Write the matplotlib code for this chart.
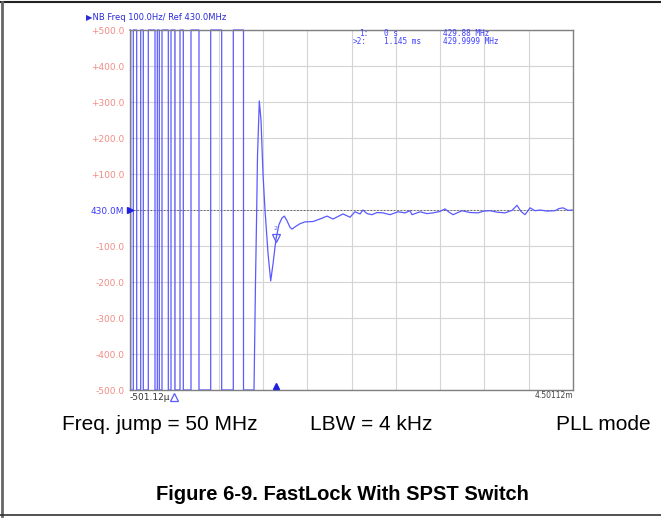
import numpy as np
import matplotlib
matplotlib.use("Agg")
import matplotlib.pyplot as plt
from matplotlib.lines import Line2D

# ---Data (time in ms, frequency offset from 430 MHz in Hz)----
T_START: float = -0.50112
T_STOP: float = 4.50112
Y_TICKS = [500, 400, 300, 200, 100, 0, -100, -200, -300, -400, -500]
Y_LABELS = ["+500.0", "+400.0", "+300.0", "+200.0", "+100.0", "430.0M",
            "-100.0", "-200.0", "-300.0", "-400.0", "-500.0"]

# times where the (off-screen) trace sweeps from one rail to the other
crossing_ms = [-0.4932, -0.4638, -0.4255, -0.3803, -0.3510, -0.2945, -0.2188,
               -0.1928, -0.1703, -0.1398, -0.0686, -0.0381, 0.0070, 0.0635,
               0.1008, 0.1877, 0.2780, 0.4101, 0.5341, 0.6653, 0.7805]

# settling part of the trace
settle_ms = [0.8991, 0.9160, 0.9296, 0.9386, 0.9589, 0.9781, 1.0007, 1.0233,
             1.0572, 1.0877, 1.1137, 1.1475, 1.1814, 1.2153, 1.2413, 1.2718,
             1.3056, 1.3282, 1.3734, 1.4186, 1.4750, 1.5654, 1.6444, 1.7235,
             1.7912, 1.8477, 1.9041, 1.9832, 2.0396, 2.0961, 2.1300, 2.1751,
             2.2316, 2.2880, 2.3558, 2.4348, 2.5251, 2.6042, 2.6607, 2.6832,
             2.7736, 2.8526, 2.9204, 2.9994, 3.0559, 3.1010, 3.1462, 3.2478,
             3.3382, 3.4285, 3.4962, 3.5640, 3.6430, 3.7334, 3.8124, 3.8689,
             3.9141, 3.9592, 4.0157, 4.0722, 4.1286, 4.2077, 4.2980, 4.3432,
             4.3884, 4.4448, 4.5011]
settle_hz = [-500, -200, 0, 150, 303, 250, 100, 0,
             -120, -197, -150, -80, -40, -22, -17, -30,
             -48, -53, -45, -38, -33, -32, -25, -17,
             -25, -18, -11, -20, -5, -11, 0, -10,
             -13, -7, -8, -13, -5, -8, -2, -13,
             -5, -10, -8, -4, 3, -6, -13, -2,
             -7, -8, -3, -2, -6, -8, -1, 13,
             -4, -13, 6, -2, 0, -3, -2, 4,
             6, -1, 0]

MARKER2_MS: float = 1.145
MARKER2_HZ: float = -78
# ---Data----

W, H = 661, 518
BLUE = "#5a5aff"
SALMON = "#f08c84"


def px(x, y):
    return x / W, 1 - y / H


def build_trace():
    t = [T_START]
    f = [500]
    level = 500
    for c in crossing_ms:
        t += [c, c]
        f += [level, -level]
        level = -level
    t += settle_ms
    f += settle_hz
    return np.array(t), np.clip(np.array(f, dtype=float), -500, 500)


def main() -> None:
    fig = plt.figure(figsize=(W / 100, H / 100), dpi=100)
    l, b = px(130, 390)
    r, t_ = px(573, 30)
    ax = fig.add_axes([l, b, r - l, t_ - b])

    t, f = build_trace()
    ax.plot(t, f, color=BLUE, lw=0.9, zorder=3, clip_on=False)

    ax.set_xlim(T_START, T_STOP)
    ax.set_ylim(-500, 500)
    ax.set_xticks(np.linspace(T_START, T_STOP, 11))
    ax.set_xticklabels([])
    ax.set_yticks(Y_TICKS)
    ax.set_yticklabels(Y_LABELS, fontsize=6.5)
    for lab, v in zip(ax.get_yticklabels(), Y_TICKS):
        lab.set_color("#3a3aff" if v == 0 else SALMON)
    ax.tick_params(length=0, pad=4)
    ax.grid(True, color="#d4d4d4", lw=0.8)
    ax.set_axisbelow(True)
    for s in ax.spines.values():
        s.set_color("#808080")
        s.set_linewidth(1.0)
        s.set_zorder(4)
    # reference level line
    ax.axhline(0, color="#555555", lw=0.6, ls=(0, (2, 2)), zorder=2)
    ax.plot([T_START], [0], marker=">", color="#2020e0", ms=4, clip_on=False, zorder=5)

    # markers
    ax.plot([0], [-520], marker="^", mfc="none", mec=BLUE, ms=6, mew=0.9, clip_on=False)
    ax.plot([MARKER2_MS], [-490], marker="^", color="#2020e0", ms=5, clip_on=False, zorder=5)
    ax.plot([MARKER2_MS], [MARKER2_HZ], marker="v", mfc="none", mec=BLUE, ms=6, mew=0.9, zorder=5)
    ax.text(MARKER2_MS, -52, "2", color=BLUE, fontsize=4.5, ha="center", va="center")

    # instrument annotations
    fig.text(*px(86, 18), "\u25b6NB Freq 100.0Hz/ Ref 430.0MHz", color="#2a2ad8",
             fontsize=6, va="center")
    mono = dict(family="DejaVu Sans Mono", fontsize=5.6, color="#4040ff", va="center")
    fig.text(*px(359, 33.5), "1:", **mono)
    fig.text(*px(384, 33.5), "0 s", **mono)
    fig.text(*px(443, 33.5), "429.88 MHz", **mono)
    fig.text(*px(353, 41.5), ">2:", **mono)
    fig.text(*px(384, 41.5), "1.145 ms", **mono)
    fig.text(*px(443, 41.5), "429.9999 MHz", **mono)
    fig.text(*px(130, 397), "-501.12\u00b5", fontsize=6.5, color="#333333", va="center")
    fig.text(*px(573, 396), "4.50112m", fontsize=5.5, color="#444444", va="center", ha="right")

    # caption area
    cap = dict(family="Liberation Sans", fontsize=15, color="black", va="center")
    fig.text(*px(62, 424), "Freq. jump = 50 MHz", **cap)
    fig.text(*px(310, 424), "LBW = 4 kHz", **cap)
    fig.text(*px(651, 424), "PLL mode", ha="right", **cap)
    fig.text(*px(342, 494), "Figure 6-9. FastLock With SPST Switch", family="Liberation Sans",
             fontsize=14.5, fontweight="bold", ha="center", va="center")

    # page frame
    fig.add_artist(Line2D([0, 1], [1 - 2 / H] * 2, color="#222222", lw=1.5))
    fig.add_artist(Line2D([1.5 / W] * 2, [2 / H, 1 - 2 / H], color="#666666", lw=2))
    fig.add_artist(Line2D([0, 1], [3 / H] * 2, color="#333333", lw=1.2))

    fig.savefig("out.png", dpi=100)


if __name__ == "__main__":
    main()
